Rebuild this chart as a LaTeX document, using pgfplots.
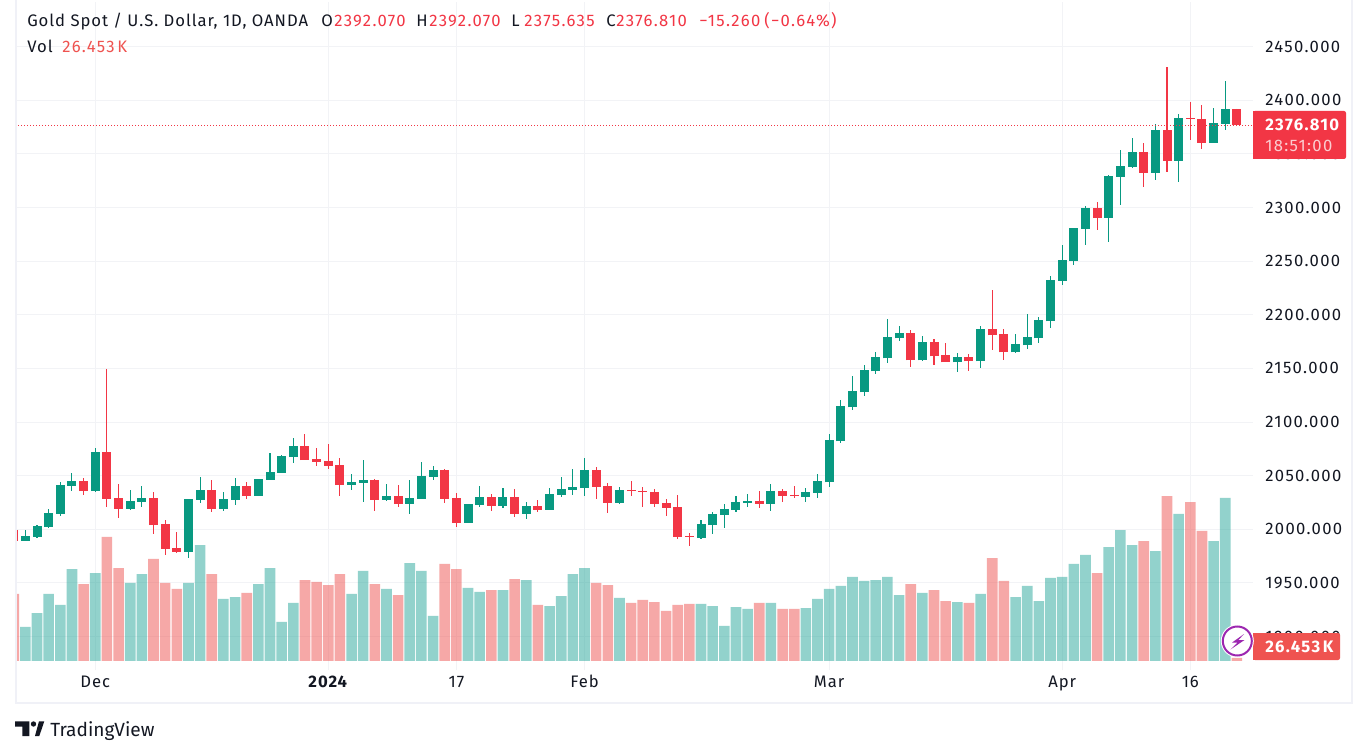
\documentclass[border=0pt]{standalone}
\usepackage{fontspec}
\setmainfont{Fira Sans}
\newfontfamily\tvd[LetterSpace=8]{Fira Sans}
\newfontfamily\tvt[LetterSpace=5.7]{Fira Sans}
\usepackage{pgfplots}
\usepackage{pgfplotstable}
\pgfplotsset{compat=1.18}
\definecolor{up}{HTML}{089981}
\definecolor{down}{HTML}{F23645}
\definecolor{vup}{HTML}{26A69A}
\definecolor{vdown}{HTML}{EF5350}
\definecolor{ink}{HTML}{131722}
\definecolor{gridc}{HTML}{F2F3F6}
\definecolor{framec}{HTML}{F0F1F7}
\definecolor{bolt}{HTML}{9C27B0}
\def\px{0.75pt}
\pgfplotstableread{
i O H L C V
1 1989.1 1999.4 1989.1 1993.8 300
2 1992.9 2004.0 1991.9 2003.1 423
3 2002.2 2019.0 2001.2 2015.2 591
4 2014.3 2044.1 2012.4 2041.3 494
5 2040.4 2052.5 2035.7 2045.1 811
7 2035.7 2075.8 2034.8 2072.1 776
10 2019.0 2036.7 2018.0 2026.4 688
11 2025.5 2040.4 2020.8 2029.2 767
15 1978.9 2028.3 1973.3 2028.3 688
16 2027.4 2048.8 2024.6 2036.7 1023
18 2019.0 2034.8 2017.1 2028.3 547
19 2027.4 2047.9 2022.7 2040.4 564
21 2031.1 2046.9 2031.1 2046.9 679
22 2046.0 2071.2 2046.0 2053.5 820
23 2052.5 2069.3 2052.5 2068.4 344
24 2067.4 2085.2 2061.8 2077.7 512
29 2041.3 2051.6 2036.7 2044.1 591
30 2043.2 2064.6 2025.5 2046.0 794
32 2027.4 2042.3 2026.4 2031.1 635
34 2023.6 2046.0 2014.3 2029.2 864
35 2028.3 2062.8 2028.3 2049.7 794
36 2048.8 2059.1 2046.0 2055.3 397
39 2005.9 2023.6 2005.9 2023.6 644
40 2022.7 2040.4 2020.8 2030.1 609
42 2021.8 2038.5 2019.9 2030.1 626
44 2014.3 2025.5 2009.6 2021.8 714
46 2018.0 2038.5 2018.0 2032.9 485
47 2032.0 2048.8 2030.1 2037.6 573
48 2036.7 2056.3 2032.0 2039.5 767
49 2038.5 2066.5 2031.1 2055.3 820
52 2024.6 2039.5 2023.6 2036.7 556
59 1991.9 2008.7 1991.0 2005.0 503
60 2004.0 2016.2 1995.6 2014.3 485
61 2013.4 2023.6 2001.2 2019.0 309
62 2018.0 2031.1 2016.2 2025.5 476
63 2024.6 2032.9 2020.8 2026.4 459
65 2023.6 2042.3 2017.1 2035.7 512
68 2030.1 2038.5 2025.5 2034.8 467
69 2033.9 2051.6 2029.2 2045.1 547
70 2043.8 2088.5 2039.1 2082.9 635
71 2082.0 2120.2 2080.1 2114.6 662
72 2113.7 2142.6 2110.9 2128.6 741
73 2127.7 2152.9 2124.0 2148.2 706
74 2147.3 2165.0 2144.5 2160.3 714
75 2159.4 2195.8 2154.7 2179.0 741
76 2178.0 2189.2 2175.3 2182.7 582
78 2157.5 2179.9 2156.6 2174.3 600
81 2155.7 2164.1 2146.3 2160.3 520
83 2156.6 2189.2 2150.1 2186.4 591
86 2165.0 2181.8 2164.1 2172.5 564
87 2171.5 2200.4 2167.8 2179.0 662
88 2178.0 2197.6 2173.4 2194.8 529
89 2193.9 2236.3 2187.4 2232.6 732
90 2231.7 2265.2 2227.9 2251.2 741
91 2250.3 2281.1 2246.6 2281.1 856
92 2280.1 2301.6 2265.2 2299.7 935
94 2290.4 2330.5 2268.0 2329.6 1005
95 2328.6 2353.8 2302.5 2338.9 1155
96 2338.0 2365.0 2337.0 2351.9 1023
98 2332.4 2378.0 2325.8 2372.5 970
100 2343.6 2387.4 2324.0 2383.6 1297
103 2360.3 2393.0 2360.3 2379.0 1058
104 2378.0 2418.1 2372.5 2392.0 1438
}\upT
\pgfplotstableread{
i O H L C V
0 1999.4 2000.0 1989.1 1989.1 591
6 2045.1 2047.9 2032.0 2035.7 679
8 2072.1 2149.5 2020.8 2028.3 1094
9 2029.2 2042.3 2010.6 2019.0 820
12 2029.2 2034.8 1995.6 2004.0 900
13 2005.0 2008.7 1976.1 1981.7 688
14 1982.6 1997.5 1977.9 1978.9 635
17 2036.7 2046.0 2016.2 2019.0 767
20 2040.4 2044.1 2028.3 2031.1 600
25 2077.7 2088.9 2064.6 2064.6 714
26 2065.6 2075.8 2059.1 2062.8 697
27 2063.7 2079.6 2056.3 2059.1 670
28 2060.0 2066.5 2031.1 2041.3 767
31 2046.0 2046.9 2017.1 2027.4 679
33 2031.1 2041.3 2020.8 2023.6 582
37 2055.3 2056.3 2024.6 2028.3 856
38 2029.2 2033.9 2002.2 2005.9 811
41 2030.1 2032.9 2017.1 2021.8 626
43 2030.1 2037.6 2011.5 2014.3 723
45 2021.8 2027.4 2016.2 2018.0 494
50 2055.3 2058.1 2028.3 2039.5 688
51 2040.4 2043.2 2015.2 2024.6 670
53 2036.7 2045.1 2031.1 2035.7 512
54 2035.7 2039.5 2020.8 2035.1 538
55 2034.8 2037.6 2020.8 2023.6 520
56 2024.6 2028.3 2012.4 2019.9 441
57 2020.8 2032.0 1991.0 1992.9 494
58 1993.8 1996.6 1984.5 1992.9 503
64 2026.4 2035.7 2019.9 2023.6 512
66 2035.7 2037.6 2025.5 2031.1 459
67 2032.0 2040.4 2029.2 2031.1 459
77 2182.7 2185.5 2151.0 2157.5 679
79 2174.3 2177.1 2152.9 2161.3 626
80 2162.2 2173.4 2155.7 2155.7 529
82 2160.3 2163.1 2147.3 2156.6 512
84 2186.4 2222.8 2166.9 2180.8 908
85 2181.8 2186.4 2157.5 2165.0 706
93 2299.7 2305.3 2279.2 2290.4 776
97 2351.9 2360.3 2319.3 2332.4 1058
99 2372.5 2431.2 2333.3 2343.6 1455
101 2383.6 2398.6 2363.1 2382.7 1402
102 2382.7 2395.8 2354.7 2360.3 1147
105 2392.07 2392.07 2375.635 2376.81 26.453
}\downT
\pgfplotsset{pane/.style={
  at={(15*\px,-670*\px)},anchor=south west,scale only axis,
  width=928.125pt,height=501pt,xmin=0.11,xmax=106.34}}
\newcommand\fd{\fontsize{12.5pt}{14pt}\tvd\selectfont}
\newcommand\ft{\fontsize{12.5pt}{14pt}\tvt\selectfont}
\begin{document}
\begin{tikzpicture}
\fill[white] (0,0) rectangle (1361*\px,-755*\px);
\path[use as bounding box] (0,0) rectangle (1361*\px,-755*\px);
% grid and scales
\begin{axis}[pane,ymin=1868.8,ymax=2491.7,
  axis line style={draw=none},major tick length=0pt,
  grid=major,grid style={line width=0.75pt,gridc},
  ytick={1900,1950,2000,2050,2100,2150,2200,2250,2300,2350,2400,2450},
  yticklabel pos=right,
  /pgf/number format/assume math mode=true,
  /pgf/number format/fixed,/pgf/number format/fixed zerofill,
  /pgf/number format/precision=3,/pgf/number format/1000 sep={},
  yticklabel style={font=\fd,text=ink,inner sep=0pt,anchor=west,xshift=9.4pt},
  xtick={7,27,38,49,70,90,101},
  xticklabels={Dec,\textbf{2024},17,Feb,Mar,Apr,16},
  xticklabel style={font=\ft,text=ink,inner sep=0pt,anchor=base,yshift=-13pt},
]
\addplot[draw=none] coordinates {(50,2000)};
\end{axis}
% volume
\begin{axis}[pane,hide axis,ymin=-79.4,ymax=5812]
\addplot[ybar,bar width=7.95pt,bar shift=0pt,draw=none,fill=vup,fill opacity=0.5] table[x=i,y=V] {\upT};
\addplot[ybar,bar width=7.95pt,bar shift=0pt,draw=none,fill=vdown,fill opacity=0.5] table[x=i,y=V] {\downT};
\end{axis}
% candles
\begin{axis}[pane,hide axis,ymin=1868.8,ymax=2491.7]
\addplot[draw=none,mark=none,error bars/.cd,y dir=both,y explicit,error mark=none,error bar style={draw=up,line width=0.8pt}]
  table[x=i,y=O,y error plus expr=\thisrow{H}-\thisrow{O},y error minus expr=\thisrow{O}-\thisrow{L}] {\upT};
\addplot[draw=none,mark=none,error bars/.cd,y dir=both,y explicit,error mark=none,error bar style={draw=down,line width=0.8pt}]
  table[x=i,y=O,y error plus expr=\thisrow{H}-\thisrow{O},y error minus expr=\thisrow{O}-\thisrow{L}] {\downT};
\addplot[draw=none,mark=none,error bars/.cd,y dir=plus,y explicit,error mark=none,error bar style={draw=up,line width=6.75pt}]
  table[x=i,y=O,y error plus expr=\thisrow{C}-\thisrow{O}] {\upT};
\addplot[draw=none,mark=none,error bars/.cd,y dir=plus,y explicit,error mark=none,error bar style={draw=down,line width=6.75pt}]
  table[x=i,y=C,y error plus expr=\thisrow{O}-\thisrow{C}] {\downT};
\addplot[color=down,mark=none,dash pattern=on 0.75pt off 1.5pt,line width=0.75pt] coordinates {(0.11,2376.81) (106.34,2376.81)};
\end{axis}
\begin{scope}[x=\px,y=-\px]
% frame
\draw[framec,line width=1.5pt] (15.5,0) -- (15.5,702.7) -- (1352,702.7) -- (1352,0);
% header
\tikzset{h/.style={anchor=base west,inner sep=0pt,font=\ft},d/.style={anchor=base west,inner sep=0pt,font=\fd}}
\node[h,text=ink] at (27,27) {Gold Spot / U.S. Dollar, 1D, OANDA};
\node[h,text=ink] at (321,27) {O};
\node[d,text=down] at (334,27) {2392.070};
\node[h,text=ink] at (416,27) {H};
\node[d,text=down] at (429,27) {2392.070};
\node[h,text=ink] at (511,27) {L};
\node[d,text=down] at (524,27) {2375.635};
\node[h,text=ink] at (606,27) {C};
\node[d,text=down] at (616,27) {2376.810};
\node[d,text=down] at (699,27) {−15.260};
\node[d,text=down] at (764,27) {(−0.64\%)};
\node[h,text=ink] at (27,52.5) {Vol};
\node[d,text=vdown] at (62,52.5) {26.453\,K};
% price badge
\fill[down,rounded corners=1.5pt] (1253,111) rectangle (1346,159);
\fill[down] (1253,111) rectangle (1258,159);
\node[d,font=\fd\bfseries,text=white] at (1265,130.5) {2376.810};
\node[d,text=white,text opacity=0.75] at (1265,152) {18:51:00};
% volume badge
\fill[vdown,rounded corners=1.5pt] (1253,633) rectangle (1340,660);
\fill[vdown] (1253,633) rectangle (1258,660);
\node[d,font=\fd\bfseries,text=white] at (1265,652.5) {26.453\,K};
% lightning
\fill[white] (1237.3,641) circle (16.5);
\draw[draw=bolt,line width=1.5pt,fill=white] (1237.3,641) circle (14.5);
\fill[bolt] (1244,634) -- (1232,642.6) -- (1237.5,642.6) -- (1230.5,649.5) -- (1244.5,640) -- (1238.5,640) -- cycle;
% logo
\fill[ink] (15,721.3) -- (29.3,721.3) -- (29.3,736) -- (22.3,736) -- (22.3,726.6) -- (15,726.6) -- cycle;
\fill[ink] (33.5,724) circle (2.7);
\fill[ink] (35,736) -- (39.3,736) -- (44.3,721.3) -- (39,721.3) -- cycle;
\node[anchor=base west,inner sep=0pt,font=\fontsize{14.3pt}{15pt}\selectfont,text=ink] at (50,736.5) {TradingView};
\end{scope}
\end{tikzpicture}
\end{document}
